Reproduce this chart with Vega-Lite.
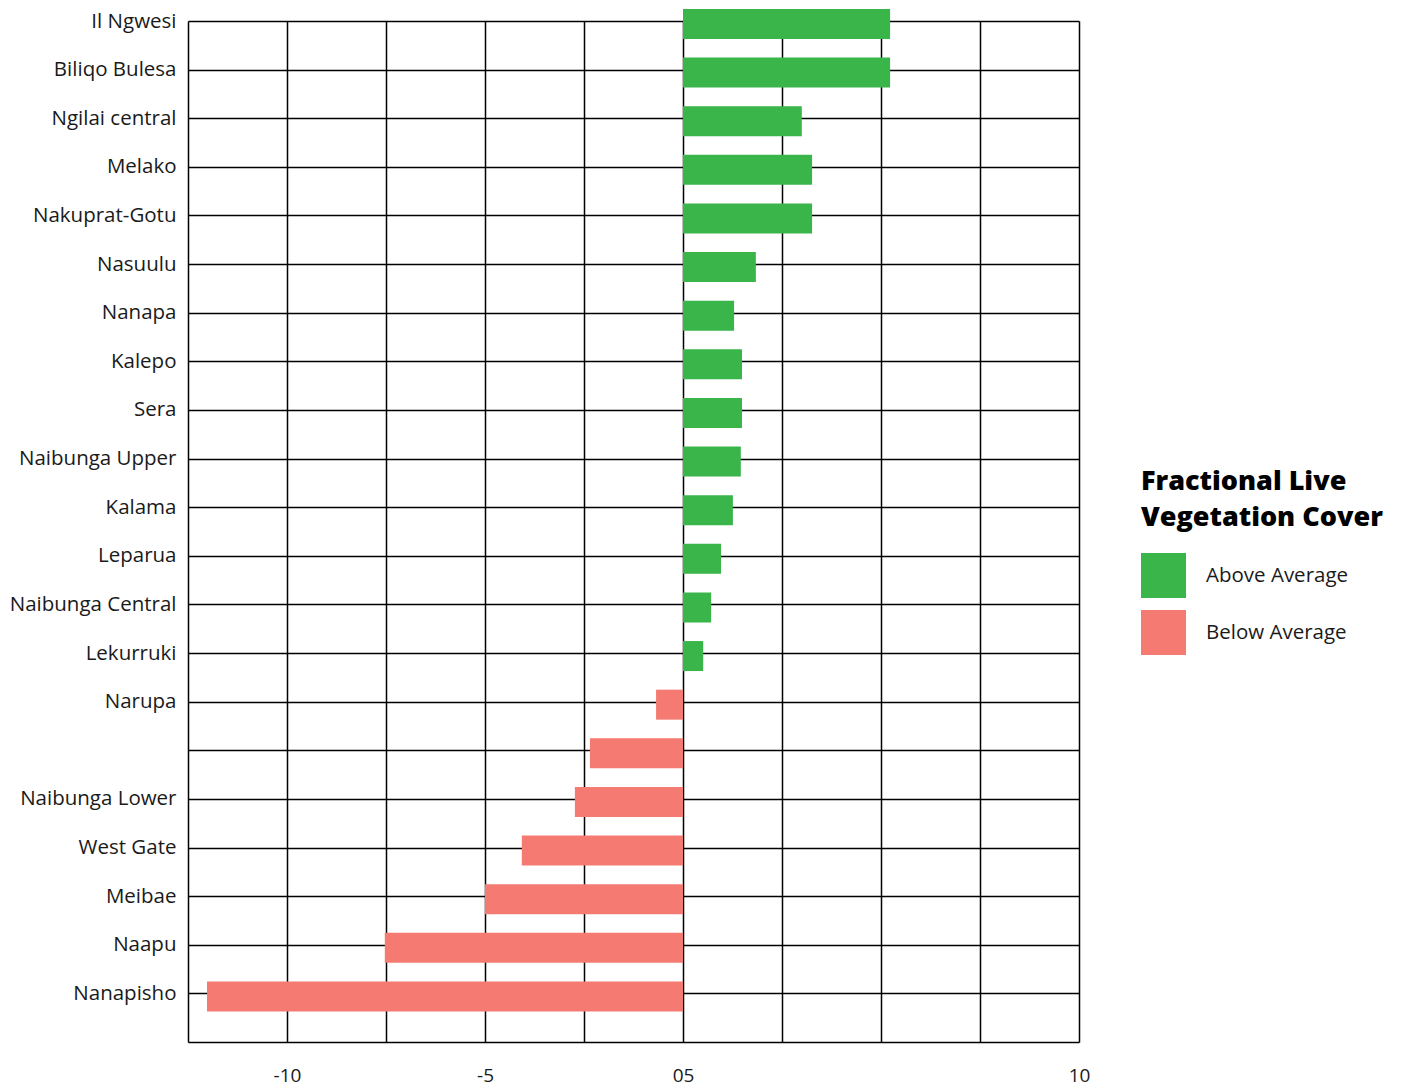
{
  "$schema": "https://vega.github.io/schema/vega-lite/v6.json",
  "width": 891,
  "height": 1021,
  "autosize": {"type": "none"},
  "padding": {"left": 188, "top": 21, "right": 330, "bottom": 46},
  "background": "white",
  "config": {"view": {"stroke": null}, "font": "Open Sans"},
  "data": {
    "values": [
      {"name": "Il Ngwesi", "value": 5.23, "status": "Above Average"},
      {"name": "Biliqo Bulesa", "value": 5.23, "status": "Above Average"},
      {"name": "Ngilai central", "value": 3.0, "status": "Above Average"},
      {"name": "Melako", "value": 3.26, "status": "Above Average"},
      {"name": "Nakuprat-Gotu", "value": 3.26, "status": "Above Average"},
      {"name": "Nasuulu", "value": 1.84, "status": "Above Average"},
      {"name": "Nanapa", "value": 1.29, "status": "Above Average"},
      {"name": "Kalepo", "value": 1.49, "status": "Above Average"},
      {"name": "Sera", "value": 1.49, "status": "Above Average"},
      {"name": "Naibunga Upper", "value": 1.46, "status": "Above Average"},
      {"name": "Kalama", "value": 1.26, "status": "Above Average"},
      {"name": "Leparua", "value": 0.96, "status": "Above Average"},
      {"name": "Naibunga Central", "value": 0.71, "status": "Above Average"},
      {"name": "Lekurruki", "value": 0.51, "status": "Above Average"},
      {"name": "Narupa", "value": -0.68, "status": "Below Average"},
      {"name": " ", "value": -2.35, "status": "Below Average"},
      {"name": "Naibunga Lower", "value": -2.73, "status": "Below Average"},
      {"name": "West Gate", "value": -4.07, "status": "Below Average"},
      {"name": "Meibae", "value": -5.0, "status": "Below Average"},
      {"name": "Naapu", "value": -7.53, "status": "Below Average"},
      {"name": "Nanapisho", "value": -12.02, "status": "Below Average"}
    ]
  },
  "mark": {"type": "bar", "height": 30, "yOffset": 3},
  "encoding": {
    "y": {
      "field": "name",
      "type": "nominal",
      "sort": null,
      "scale": {"type": "point", "padding": 0.5, "align": 0},
      "axis": {
        "title": null,
        "grid": true,
        "gridColor": "#000000",
        "gridWidth": 1.5,
        "gridOpacity": 1,
        "ticks": false,
        "domain": false,
        "labelFontSize": 20.5,
        "labelColor": "#1a1a1a",
        "labelPadding": 12,
        "labelFont": "Open Sans"
      }
    },
    "x": {
      "field": "value",
      "type": "quantitative",
      "stack": null,
      "scale": {"domain": [-12.5, 10], "nice": false, "zero": false},
      "axis": {
        "title": null,
        "values": [-12.5, -10, -7.5, -5, -2.5, 0, 2.5, 5, 7.5, 10],
        "labelExpr": "datum.value == -10 ? '-10' : datum.value == -5 ? '-5' : datum.value == 0 ? '05' : datum.value == 10 ? '10' : ''",
        "grid": true,
        "gridColor": "#000000",
        "gridWidth": 1.5,
        "gridOpacity": 1,
        "ticks": false,
        "domain": true,
        "domainColor": "#000000",
        "domainWidth": 1.5,
        "labelFontSize": 19,
        "labelColor": "#1a1a1a",
        "labelPadding": 24,
        "labelFlush": false,
        "labelOverlap": false,
        "labelFont": "Open Sans"
      }
    },
    "color": {
      "field": "status",
      "type": "nominal",
      "scale": {"domain": ["Above Average", "Below Average"], "range": ["#39B54A", "#F47A72"]},
      "legend": {
        "title": ["Fractional Live", "Vegetation Cover"],
        "orient": "none",
        "legendX": 953,
        "legendY": 448,
        "titleFontSize": 27,
        "titleFontWeight": 800,
        "titleFont": "Open Sans",
        "titleColor": "#000000",
        "titleLineHeight": 36,
        "titleLimit": 500,
        "titlePadding": 21,
        "symbolType": "square",
        "symbolSize": 2025,
        "symbolStrokeWidth": 0,
        "symbolOpacity": 1,
        "labelFontSize": 20.5,
        "labelFont": "Open Sans",
        "labelColor": "#1a1a1a",
        "labelLimit": 300,
        "labelOffset": 20,
        "rowPadding": 12
      }
    }
  }
}
